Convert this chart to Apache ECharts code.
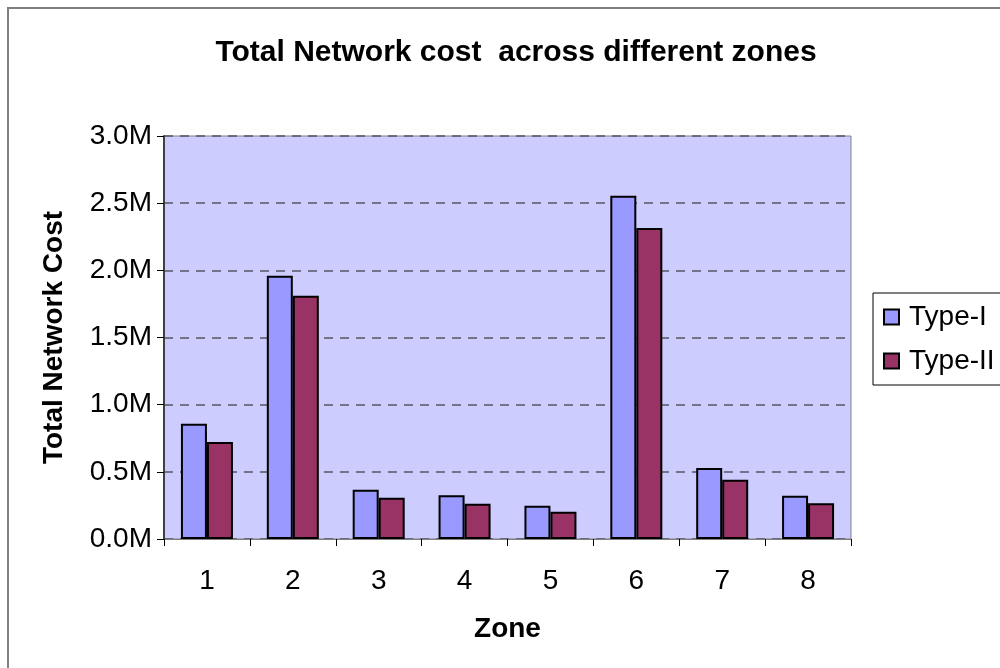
<!DOCTYPE html>
<html>
<head>
<meta charset="utf-8">
<script src="https://cdn.jsdelivr.net/npm/echarts@6/dist/echarts.min.js"></script>
<style>
  html, body { margin: 0; padding: 0; background: #fff; }
  #chart { width: 1000px; height: 668px; }
</style>
</head>
<body>
<div id="chart"></div>
<script>
// Zones and network cost per zone, in millions
const zones = ['1', '2', '3', '4', '5', '6', '7', '8'];
const typeI = [0.858, 1.959, 0.367, 0.325, 0.248, 2.556, 0.528, 0.322];
const typeII = [0.722, 1.810, 0.307, 0.263, 0.203, 2.316, 0.441, 0.266];
const seriesNames = ['Type-I', 'Type-II'];

const font = 'Liberation Sans, Arial, sans-serif';
const chart = echarts.init(document.getElementById('chart'));

chart.setOption({
  animation: false,
  backgroundColor: '#ffffff',
  title: {
    text: 'Total Network cost  across different zones',
    left: 511,
    textAlign: 'center',
    top: 33,
    textStyle: { fontFamily: font, fontSize: 30, fontWeight: 'bold', color: '#000' }
  },
  graphic: [{
    type: 'rect',
    shape: { x: 8, y: 8, width: 1020, height: 700 },
    style: { fill: 'none', stroke: '#808080', lineWidth: 2 },
    z: 100
  }],
  legend: {
    orient: 'vertical',
    left: 873,
    top: 293,
    data: seriesNames,
    itemWidth: 15,
    itemHeight: 15,
    itemGap: 16,
    padding: [10, 12, 10, 10],
    borderColor: '#000',
    borderWidth: 1,
    icon: 'rect',
    textStyle: { fontFamily: font, fontSize: 28, color: '#000', padding: [0, 0, 0, 5] }
  },
  grid: {
    left: 164, right: 149, top: 136, bottom: 129,
    show: true,
    backgroundColor: '#CCCCFF',
    borderColor: '#808080',
    borderWidth: 1
  },
  xAxis: {
    type: 'category',
    data: zones,
    name: 'Zone',
    nameLocation: 'middle',
    nameGap: 76,
    nameTextStyle: { fontFamily: font, fontSize: 28, fontWeight: 'bold', color: '#000' },
    axisLine: { lineStyle: { color: '#808080', width: 1 } },
    axisTick: { show: true, inside: false, length: 7, lineStyle: { color: '#000' } },
    axisLabel: { fontFamily: font, fontSize: 28, color: '#000', margin: 28 }
  },
  yAxis: {
    type: 'value',
    min: 0,
    max: 3,
    interval: 0.5,
    name: 'Total Network Cost',
    nameLocation: 'middle',
    nameGap: 96,
    nameTextStyle: { fontFamily: font, fontSize: 28, fontWeight: 'bold', color: '#000' },
    axisLine: { show: true, lineStyle: { color: '#404040', width: 2 } },
    axisTick: { show: true, inside: false, length: 7, lineStyle: { color: '#000' } },
    axisLabel: {
      fontFamily: font, fontSize: 28, color: '#000', margin: 12,
      formatter: v => v.toFixed(1) + 'M'
    },
    splitLine: { show: true, lineStyle: { color: '#555566', type: [9, 7], width: 1.5 } }
  },
  series: [
    {
      name: seriesNames[0],
      type: 'bar',
      data: typeI,
      barWidth: 26,
      barGap: '0%',
      itemStyle: { color: '#9999FF', borderColor: '#000', borderWidth: 2 }
    },
    {
      name: seriesNames[1],
      type: 'bar',
      data: typeII,
      barWidth: 26,
      barGap: '0%',
      itemStyle: { color: '#993366', borderColor: '#000', borderWidth: 2 }
    }
  ]
});
</script>
</body>
</html>
